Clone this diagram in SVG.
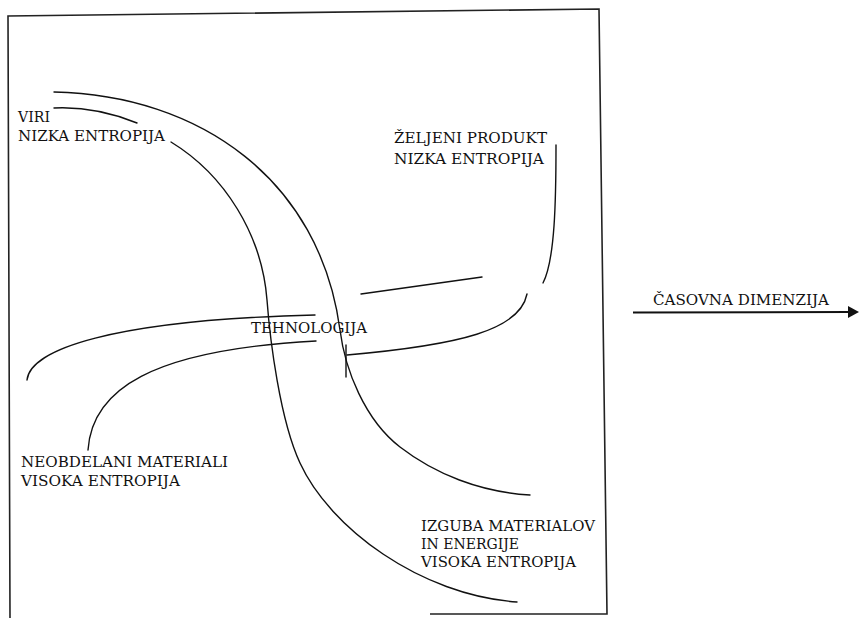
<svg xmlns="http://www.w3.org/2000/svg" width="860" height="618" viewBox="0 0 860 618">
<style>
text{font-family:'DejaVu Serif','Liberation Serif',serif;font-size:15.5px;fill:#111}
.c{fill:none;stroke:#111;stroke-width:1.4;stroke-linecap:round}
.frame{fill:none;stroke:#222;stroke-width:1.6}
</style>
<rect width="860" height="618" fill="#fff"/>
<g id="frame">
<path class="frame" d="M10,618 L8,16 L599,9 L607,614 L430,614"/>
</g>
<g id="connectors">
<path class="c" d="M54,92 C200,95 320,180 340,330 C345,370 365,420 400,447 C435,474 480,492 530,495"/>
<path class="c" d="M54,108 Q95,106 137,123"/>
<path class="c" d="M171,142 C225,175 262,235 267,300 C270,340 280,420 300,463 C330,528 420,595 517,602"/>
<path class="c" d="M27,380 C30,350 110,320 315,315"/>
<path class="c" d="M88,450 C92,390 150,350 316,341"/>
<path class="c" d="M527,294 C520,330 460,345 347,355"/>
<path class="c" d="M556,145 C556,200 555,260 543,283"/>
<path class="c" d="M361,294 L482,277"/>
<path class="c" d="M346,345 L346,377"/>
</g>
<g id="viri">
<text x="18" y="122" textLength="32" lengthAdjust="spacingAndGlyphs">VIRI</text>
<text x="18" y="141" textLength="147" lengthAdjust="spacingAndGlyphs">NIZKA ENTROPIJA</text>
</g>
<g id="zeljeni">
<text x="394" y="143" textLength="153" lengthAdjust="spacingAndGlyphs">ŽELJENI PRODUKT</text>
<text x="394" y="164" textLength="150" lengthAdjust="spacingAndGlyphs">NIZKA ENTROPIJA</text>
</g>
<g id="tehnologija">
<text x="251" y="333" textLength="116" lengthAdjust="spacingAndGlyphs">TEHNOLOGIJA</text>
</g>
<g id="neobdelani">
<text x="21" y="467" textLength="207" lengthAdjust="spacingAndGlyphs">NEOBDELANI MATERIALI</text>
<text x="21" y="486" textLength="159" lengthAdjust="spacingAndGlyphs">VISOKA ENTROPIJA</text>
</g>
<g id="izguba">
<text x="421" y="531" textLength="174" lengthAdjust="spacingAndGlyphs">IZGUBA MATERIALOV</text>
<text x="421" y="549" textLength="98" lengthAdjust="spacingAndGlyphs">IN ENERGIJE</text>
<text x="421" y="567" textLength="155" lengthAdjust="spacingAndGlyphs">VISOKA ENTROPIJA</text>
</g>
<g id="casovna">
<text x="653" y="305" textLength="176" lengthAdjust="spacingAndGlyphs">ČASOVNA DIMENZIJA</text>
<path d="M633,312.5 L850,312" stroke="#111" stroke-width="2" fill="none"/>
<polygon points="848,306 859,312 848,318" fill="#111"/>
</g>
</svg>
